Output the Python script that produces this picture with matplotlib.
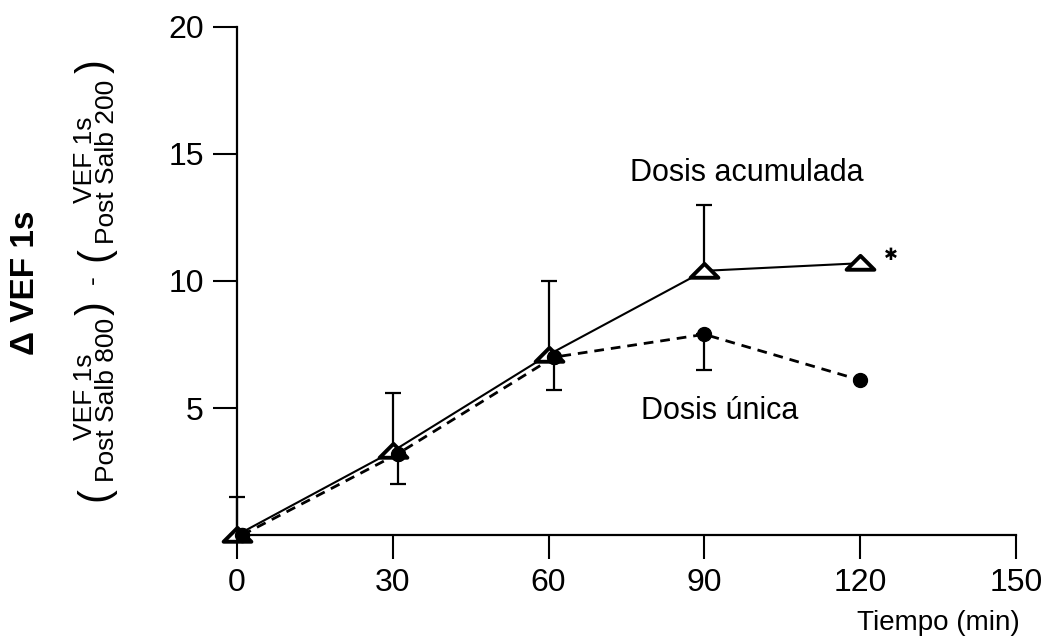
import numpy as np
import matplotlib
matplotlib.use("Agg")
import matplotlib.pyplot as plt
from matplotlib.path import Path

plt.rcParams['font.family'] = ['Liberation Sans', 'DejaVu Sans']

# data
tiempo = [0, 30, 60, 90, 120]
acumulada = [0.0, 3.3, 7.1, 10.4, 10.7]
acum_err_up = [1.5, 2.3, 2.9, 2.6, 0.0]
tiempo_unica = [1, 31, 61, 90, 120]
unica = [0.0, 3.2, 7.0, 7.9, 6.1]
unica_err_dn = [0.0, 1.2, 1.3, 1.4, 0.0]

W, H = 1046, 639
fig = plt.figure(figsize=(W / 100, H / 100), dpi=100)
ax = fig.add_axes([237 / W, 1 - 535 / H, (1016 - 237) / W, (535 - 27) / H])

tri = Path([(-1, -0.45), (1, -0.45), (0, 0.55), (-1, -0.45)],
           [Path.MOVETO, Path.LINETO, Path.LINETO, Path.CLOSEPOLY])

# error bars
ax.errorbar(tiempo[:4], acumulada[:4], yerr=[np.zeros(4), acum_err_up[:4]],
            fmt='none', ecolor='black', elinewidth=1.6, capsize=6, capthick=1.6,
            clip_on=False)
ax.errorbar(tiempo_unica[1:4], unica[1:4], yerr=[unica_err_dn[1:4], np.zeros(3)],
            fmt='none', ecolor='black', elinewidth=1.6, capsize=6, capthick=1.6)

ax.plot(tiempo_unica, unica, color='black', lw=2.0, ls=(0, (3.5, 2.5)),
        marker='o', ms=10, mfc='black', mec='black', clip_on=False, zorder=3)
ax.plot(tiempo, acumulada, color='black', lw=1.5, marker=tri, ms=20,
        mfc='white', mec='black', mew=2.8, clip_on=False, zorder=4)
# keep the overlapped circles visible on the right half
ax.plot(tiempo_unica[:3], unica[:3], ls='none', marker='o', ms=10,
        mfc='black', mec='black', clip_on=False, zorder=5)

ax.annotate('✱', (120, 10.7), xytext=(17, 6), textcoords='offset points',
            fontsize=12, family='DejaVu Sans', ha='left', va='center')

ax.text(98.2, 14.25, 'Dosis acumulada', fontsize=22, ha='center', va='center')
ax.text(93, 4.9, 'Dosis única', fontsize=22, ha='center', va='center')

ax.set_xlim(0, 150)
ax.set_ylim(0, 20)
ax.set_xticks([0, 30, 60, 90, 120, 150])
ax.set_yticks([5, 10, 15, 20])
ax.tick_params(axis='both', direction='out', length=17, width=1.5,
               labelsize=23, pad=7)
for s in ['top', 'right']:
    ax.spines[s].set_visible(False)
for s in ['left', 'bottom']:
    ax.spines[s].set_linewidth(1.6)

fig.text(1020 / W, 1 - 623 / H, 'Tiempo (min)', fontsize=20, ha='right', va='center')


def ftext(x, y, s, **kw):
    fig.text(x / W, 1 - y / H, s, rotation=90, ha='center', va='center', **kw)


ftext(26, 283, 'Δ VEF 1s', fontsize=24, fontweight='bold')
ftext(85, 397, 'VEF 1s', fontsize=19)
ftext(107, 400, 'Post Salb 800', fontsize=19)
ftext(85, 160, 'VEF 1s', fontsize=19)
ftext(107, 162, 'Post Salb 200', fontsize=19)
ftext(95, 494, '(', fontsize=30)
ftext(95, 308, ')', fontsize=30)
ftext(93, 280, '-', fontsize=19)
ftext(95, 254, '(', fontsize=30)
ftext(95, 66, ')', fontsize=30)

fig.savefig('out.png', dpi=100)
